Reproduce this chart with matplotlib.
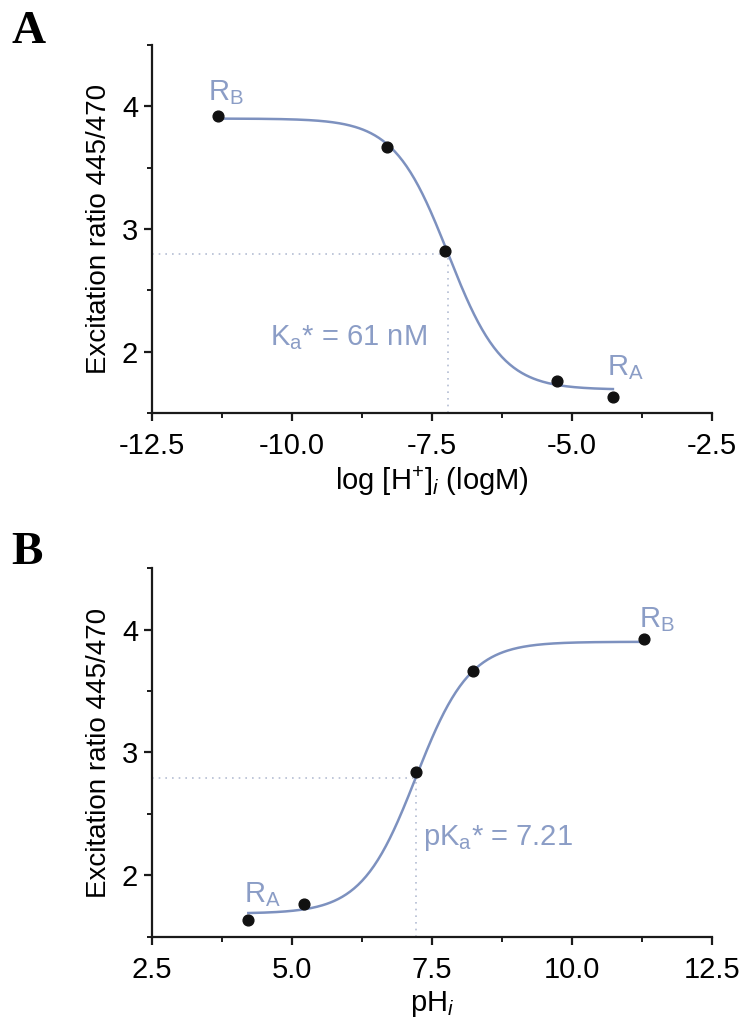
import numpy as np
import matplotlib
matplotlib.use("Agg")
import matplotlib.pyplot as plt
from matplotlib.ticker import MultipleLocator, FormatStrFormatter

plt.rcParams["font.family"] = ["Liberation Sans", "DejaVu Sans"]
plt.rcParams["axes.unicode_minus"] = False
plt.rcParams["mathtext.fontset"] = "custom"
plt.rcParams["mathtext.rm"] = "Liberation Sans"
plt.rcParams["mathtext.it"] = "Liberation Sans:italic"

log_h = [-11.33, -8.30, -7.27, -5.27, -4.27]
ratio_a = [3.92, 3.67, 2.82, 1.76, 1.63]
ph = [4.22, 5.22, 7.22, 8.24, 11.28]
ratio_b = [1.64, 1.77, 2.84, 3.66, 3.92]

# fitted sigmoid parameters
r_top = 3.90
r_bottom = 1.69
pka = 7.21
hill = 0.9
half_ratio = (r_top + r_bottom) / 2

CURVE = "#7d91bf"
LABEL = "#8b9dc6"
DOTS = "#b4bdd3"


def fit_curve(p):
    return r_bottom + (r_top - r_bottom) / (1 + 10 ** (hill * (pka - p)))


def style_axes(ax):
    for s in ["top", "right"]:
        ax.spines[s].set_visible(False)
    for s in ["left", "bottom"]:
        ax.spines[s].set_linewidth(1.6)
        ax.spines[s].set_color("#1a1a1a")
    ax.set_ylim(1.5, 4.5)
    ax.yaxis.set_major_locator(MultipleLocator(1))
    ax.yaxis.set_minor_locator(MultipleLocator(0.5))
    ax.xaxis.set_major_locator(MultipleLocator(2.5))
    ax.xaxis.set_minor_locator(MultipleLocator(1.25))
    ax.xaxis.set_major_formatter(FormatStrFormatter("%.1f"))
    ax.tick_params(which="major", length=6, width=1.6, labelsize=21, color="#1a1a1a")
    ax.tick_params(axis="x", which="major", pad=8)
    ax.tick_params(axis="y", which="major", pad=4)
    ax.tick_params(which="minor", length=3.5, width=1.4, color="#1a1a1a")
    ax.set_ylabel("Excitation ratio 445/470", fontsize=20, labelpad=7)


fig = plt.figure(figsize=(7.4, 10.24), dpi=100)

# panel A
ax1 = fig.add_axes([0.2054, 0.5967, 0.7568, 0.3594])
style_axes(ax1)
ax1.set_xlim(-12.5, -2.5)
xa = np.linspace(min(log_h), max(log_h), 300)
ax1.plot(xa, fit_curve(-xa), color=CURVE, lw=1.8, zorder=2)
ax1.scatter(log_h, ratio_a, s=60, color="#111111", zorder=3)
ax1.plot([-12.5, -pka], [half_ratio, half_ratio], ls=(0, (1, 3)), color=DOTS, lw=1.2, zorder=1)
ax1.plot([-pka, -pka], [1.5, half_ratio], ls=(0, (1, 3)), color=DOTS, lw=1.2, zorder=1)
ax1.text(-11.5, 4.05, r"R$_\mathregular{B}$", color=LABEL, fontsize=21)
ax1.text(-4.38, 1.81, r"R$_\mathregular{A}$", color=LABEL, fontsize=21)
ax1.text(-10.4, 2.05, r"K$_\mathregular{a}$* = 61 nM", color=LABEL, fontsize=21)
ax1.set_xlabel(r"log [H$^\mathregular{+}$]$_{i}$ (logM)", fontsize=21, labelpad=3)
fig.text(0.015, 0.958, "A", fontsize=34, fontweight="bold", family="Liberation Serif")

# panel B
ax2 = fig.add_axes([0.2054, 0.085, 0.7568, 0.3603])
style_axes(ax2)
ax2.set_xlim(2.5, 12.5)
xb = np.linspace(min(ph), max(ph), 300)
ax2.plot(xb, fit_curve(xb), color=CURVE, lw=1.8, zorder=2)
ax2.scatter(ph, ratio_b, s=60, color="#111111", zorder=3)
ax2.plot([2.5, pka], [half_ratio, half_ratio], ls=(0, (1, 3)), color=DOTS, lw=1.2, zorder=1)
ax2.plot([pka, pka], [1.5, half_ratio], ls=(0, (1, 3)), color=DOTS, lw=1.2, zorder=1)
ax2.text(4.15, 1.78, r"R$_\mathregular{A}$", color=LABEL, fontsize=21)
ax2.text(11.2, 4.02, r"R$_\mathregular{B}$", color=LABEL, fontsize=21)
ax2.text(7.34, 2.25, r"pK$_\mathregular{a}$* = 7.21", color=LABEL, fontsize=21)
ax2.set_xlabel(r"pH$_{i}$", fontsize=21, labelpad=3)
fig.text(0.015, 0.449, "B", fontsize=34, fontweight="bold", family="Liberation Serif")

fig.savefig("out.png", dpi=100)
